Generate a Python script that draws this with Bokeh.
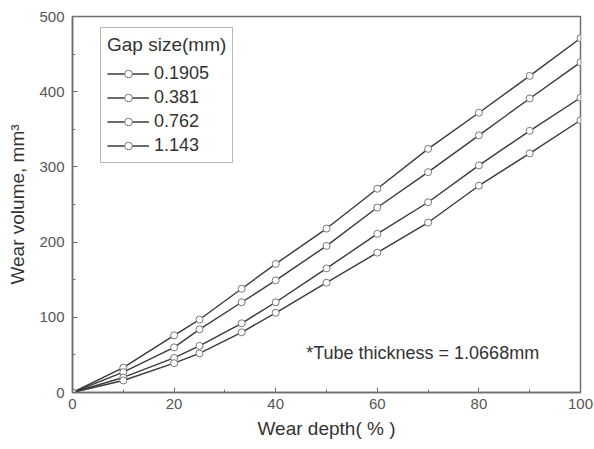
from bokeh.plotting import figure
from bokeh.models import Legend, LegendItem, Label, SingleIntervalTicker, Range1d
from bokeh.embed import file_html
from bokeh.resources import INLINE

# ---- data ----
wear_depth = [0, 10, 20, 25, 33.3, 40, 50, 60, 70, 80, 90, 100]
gap_0_1905 = [0, 33, 76, 97, 138, 171, 218, 271, 324, 372, 421, 471]
gap_0_381 = [0, 27, 60, 84, 120, 149, 195, 246, 293, 342, 391, 439]
gap_0_762 = [0, 20, 46, 62, 92, 120, 165, 211, 253, 302, 348, 392]
gap_1_143 = [0, 16, 39, 52, 80, 106, 146, 186, 226, 275, 318, 362]
series_labels = ["0.1905", "0.381", "0.762", "1.143"]
series_values = [gap_0_1905, gap_0_381, gap_0_762, gap_1_143]

FONT = "Liberation Sans"
LINE = "#3a3a3a"
AX = "#6e6e6e"

p = figure(width=594, height=449, output_backend="svg", toolbar_location=None,
           x_range=Range1d(0, 100), y_range=Range1d(0, 500),
           min_border_left=72, min_border_right=14, min_border_top=16, min_border_bottom=57)
p.background_fill_color = "white"
p.border_fill_color = "white"
p.xgrid.visible = False
p.ygrid.visible = False
p.outline_line_color = AX
p.outline_line_width = 1.5

p.xaxis.ticker = SingleIntervalTicker(interval=20, num_minor_ticks=2)
p.yaxis.ticker = SingleIntervalTicker(interval=100, num_minor_ticks=2)
for ax in (p.xaxis, p.yaxis):
    ax.major_tick_in = 5
    ax.major_tick_out = 0
    ax.minor_tick_in = 3
    ax.minor_tick_out = 0
    ax.axis_line_color = AX
    ax.axis_line_width = 1.5
    ax.major_tick_line_color = AX
    ax.minor_tick_line_color = AX
    ax.major_label_text_font = FONT
    ax.major_label_text_font_size = "15px"
    ax.major_label_text_color = "#555555"
    ax.axis_label_text_font = FONT
    ax.axis_label_text_font_size = "19px"
    ax.axis_label_text_font_style = "normal"
    ax.axis_label_text_color = "#333333"
p.xaxis.axis_label = "Wear depth( % )"
p.yaxis.axis_label = "Wear volume, mm³"
p.xaxis.major_label_standoff = 6
p.yaxis.major_label_standoff = 8
p.xaxis.axis_label_standoff = 6
p.yaxis.axis_label_standoff = 8

items = []
for lab, vals in zip(series_labels, series_values):
    l = p.line(wear_depth, vals, line_color=LINE, line_width=1.4)
    s = p.scatter(wear_depth, vals, marker="circle", size=7, fill_color="white",
                  line_color="#777777", line_width=1)
    items.append(LegendItem(label=lab, renderers=[l, s]))

legend = Legend(items=items, location=(28, 229), title="Gap size(mm)")
legend.title_text_font = FONT
legend.title_text_font_size = "19px"
legend.title_text_font_style = "normal"
legend.title_text_color = "#333333"
legend.label_text_font = FONT
legend.label_text_font_size = "18px"
legend.label_text_color = "#333333"
legend.border_line_color = AX
legend.border_line_width = 1.5
legend.glyph_width = 42
legend.glyph_height = 19
legend.label_height = 19
legend.spacing = 3
legend.padding = 6
legend.label_standoff = 5
legend.title_standoff = 7
legend.background_fill_alpha = 1
p.add_layout(legend, "center")

note = Label(x=46, y=53, text="*Tube thickness = 1.0668mm", text_font=FONT,
             text_font_size="18px", text_color="#333333", text_baseline="middle")
p.add_layout(note)

open("out.html", "w").write(file_html(p, INLINE))
